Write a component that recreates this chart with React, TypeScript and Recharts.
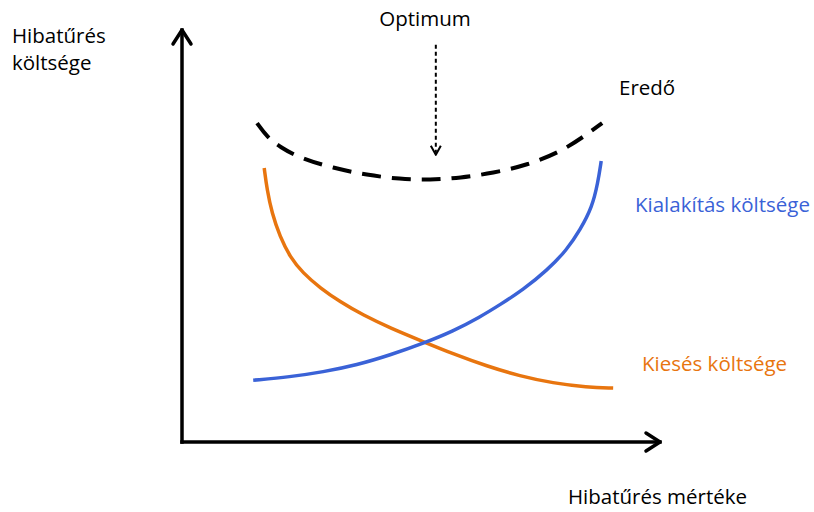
import React from 'react';
import { ComposedChart, Line, XAxis, YAxis, ReferenceLine } from 'recharts';

// Kialakítás költsége (blue, rising)
const kialakitas = [
  { x: 1.49, y: 1.5 }, { x: 2.26, y: 1.58 }, { x: 2.95, y: 1.7 }, { x: 3.66, y: 1.87 },
  { x: 4.35, y: 2.11 }, { x: 5.06, y: 2.4 }, { x: 5.67, y: 2.69 }, { x: 6.23, y: 3.03 },
  { x: 6.65, y: 3.33 }, { x: 7.13, y: 3.69 }, { x: 7.64, y: 4.17 }, { x: 8.05, y: 4.66 },
  { x: 8.33, y: 5.15 }, { x: 8.58, y: 5.7 }, { x: 8.7, y: 6.29 }, { x: 8.77, y: 6.82 },
];

// Kiesés költsége (orange, falling)
const kieses = [
  { x: 1.72, y: 6.65 }, { x: 1.78, y: 6.12 }, { x: 1.88, y: 5.56 }, { x: 2.05, y: 4.98 },
  { x: 2.26, y: 4.49 }, { x: 2.53, y: 4.1 }, { x: 2.89, y: 3.74 }, { x: 3.31, y: 3.4 },
  { x: 3.79, y: 3.08 }, { x: 4.35, y: 2.77 }, { x: 5.06, y: 2.43 }, { x: 5.67, y: 2.14 },
  { x: 6.38, y: 1.84 }, { x: 7.07, y: 1.6 }, { x: 7.76, y: 1.43 }, { x: 8.47, y: 1.33 },
  { x: 9.02, y: 1.31 },
];

// Eredő (dashed black)
const eredo = [
  { x: 1.57, y: 7.74 }, { x: 1.78, y: 7.4 }, { x: 2.05, y: 7.16 }, { x: 2.47, y: 6.89 },
  { x: 3.16, y: 6.65 }, { x: 3.87, y: 6.48 }, { x: 4.56, y: 6.38 }, { x: 5.19, y: 6.36 },
  { x: 5.82, y: 6.41 }, { x: 6.51, y: 6.53 }, { x: 7.22, y: 6.72 }, { x: 7.91, y: 7.04 },
  { x: 8.39, y: 7.4 }, { x: 8.79, y: 7.74 },
];

// Optimum arrow (from top to tip)
const optimumArrow = [{ x: 5.31, y: 9.64 }, { x: 5.31, y: 6.97 }];

const xAxisSegment = [{ x: 0, y: 0 }, { x: 10, y: 0 }];
const yAxisSegment = [{ x: 0, y: 0 }, { x: 0, y: 10 }];

const domain: [number, number] = [0, 10];

const BLUE = '#3a62d7';
const ORANGE = '#e8750f';
const FONT = '"Open Sans", sans-serif';

const AxisArrow = (props: any) => {
  const { x1, y1, x2, y2 } = props;
  const dx = x2 - x1;
  const dy = y2 - y1;
  const len = Math.sqrt(dx * dx + dy * dy) || 1;
  const ux = dx / len;
  const uy = dy / len;
  const back = 14;
  const side = 9;
  const ax = x2 - ux * back - uy * side;
  const ay = y2 - uy * back + ux * side;
  const bx = x2 - ux * back + uy * side;
  const by = y2 - uy * back - ux * side;
  return (
    <g>
      <line x1={x1} y1={y1} x2={x2} y2={y2} stroke="#000" strokeWidth={3.5} strokeLinecap="square" />
      <polyline points={`${ax},${ay} ${x2},${y2} ${bx},${by}`} fill="none" stroke="#000" strokeWidth={3.5} strokeLinecap="round" strokeLinejoin="round" />
    </g>
  );
};

const DashedArrow = (props: any) => {
  const { x1, y1, x2, y2 } = props;
  return (
    <g>
      <line x1={x1} y1={y1} x2={x2} y2={y2 - 2} stroke="#000" strokeWidth={2} strokeDasharray="4 3" />
      <polyline points={`${x2 - 5},${y2 - 9} ${x2},${y2} ${x2 + 5},${y2 - 9}`} fill="none" stroke="#000" strokeWidth={2} strokeLinejoin="round" />
    </g>
  );
};

export default function App() {
  return (
    <div style={{ position: 'absolute', left: 0, top: 0, width: 814, height: 512, background: '#fff' }}>
      <ComposedChart width={814} height={512} margin={{ top: 30, right: 154, bottom: 70, left: 182 }}>
        <XAxis type="number" dataKey="x" domain={domain} hide allowDataOverflow />
        <YAxis type="number" dataKey="y" domain={domain} hide allowDataOverflow />
        <ReferenceLine segment={yAxisSegment} ifOverflow="visible" shape={AxisArrow} />
        <ReferenceLine segment={xAxisSegment} ifOverflow="visible" shape={AxisArrow} />
        <ReferenceLine segment={optimumArrow} ifOverflow="visible" shape={DashedArrow} />
        <Line data={eredo} dataKey="y" type="basis" stroke="#000" strokeWidth={4} strokeDasharray="19 11" dot={false} isAnimationActive={false} />
        <Line data={kieses} dataKey="y" type="basis" stroke={ORANGE} strokeWidth={3.5} dot={false} isAnimationActive={false} />
        <Line data={kialakitas} dataKey="y" type="basis" stroke={BLUE} strokeWidth={3.5} dot={false} isAnimationActive={false} />
      </ComposedChart>
      <svg width={814} height={512} style={{ position: 'absolute', left: 0, top: 0, pointerEvents: 'none' }}>
        <g fontFamily={FONT} fontSize={20.5}>
          <text x={12} y={43} fill="#000">Hibatűrés</text>
          <text x={12} y={70} fill="#000">költsége</text>
          <text x={425} y={26} fill="#000" textAnchor="middle">Optimum</text>
          <text x={619} y={95} fill="#000">Eredő</text>
          <text x={635} y={212} fill={BLUE}>Kialakítás költsége</text>
          <text x={642} y={371} fill={ORANGE}>Kiesés költsége</text>
          <text x={568} y={504} fill="#000">Hibatűrés mértéke</text>
        </g>
      </svg>
    </div>
  );
}
